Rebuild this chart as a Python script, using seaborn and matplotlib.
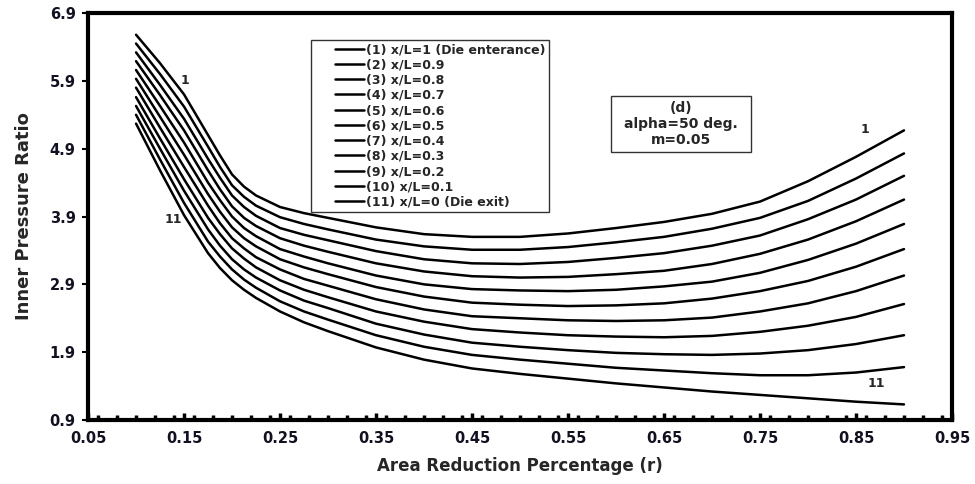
import numpy as np
import pandas as pd
import matplotlib
matplotlib.use("Agg")
import matplotlib.pyplot as plt
import seaborn as sns
from matplotlib.ticker import MultipleLocator, FixedLocator
from matplotlib.lines import Line2D
from matplotlib.patches import Rectangle
from matplotlib.legend_handler import HandlerLine2D

# ---------------- data ----------------
r_values = [0.10, 0.125, 0.15, 0.175, 0.1875, 0.20, 0.2125, 0.225, 0.25, 0.275, 0.30,
            0.35, 0.40, 0.45, 0.50, 0.55, 0.60, 0.65, 0.70, 0.75, 0.80, 0.85, 0.90]

curve_1 = [6.58, 6.16, 5.70, 5.10, 4.80, 4.52, 4.34, 4.21, 4.04, 3.95, 3.88,
           3.74, 3.64, 3.60, 3.60, 3.65, 3.73, 3.82, 3.94, 4.12, 4.42, 4.78, 5.17]
curve_2 = [6.45, 6.00, 5.52, 4.93, 4.63, 4.36, 4.19, 4.06, 3.89, 3.79, 3.71,
           3.56, 3.46, 3.41, 3.41, 3.45, 3.52, 3.60, 3.72, 3.88, 4.13, 4.46, 4.83]
curve_3 = [6.32, 5.84, 5.34, 4.75, 4.47, 4.21, 4.04, 3.91, 3.73, 3.63, 3.55,
           3.39, 3.27, 3.21, 3.20, 3.23, 3.29, 3.36, 3.47, 3.62, 3.86, 4.15, 4.50]
curve_4 = [6.19, 5.69, 5.17, 4.58, 4.30, 4.05, 3.88, 3.76, 3.58, 3.47, 3.38,
           3.21, 3.09, 3.02, 3.00, 3.01, 3.05, 3.10, 3.20, 3.35, 3.56, 3.83, 4.15]
curve_5 = [6.06, 5.53, 4.99, 4.40, 4.14, 3.90, 3.73, 3.61, 3.42, 3.31, 3.21,
           3.03, 2.90, 2.83, 2.81, 2.80, 2.82, 2.87, 2.94, 3.07, 3.26, 3.50, 3.79]
curve_6 = [5.93, 5.37, 4.81, 4.23, 3.97, 3.74, 3.58, 3.46, 3.27, 3.15, 3.05,
           2.86, 2.72, 2.63, 2.60, 2.58, 2.59, 2.62, 2.69, 2.80, 2.95, 3.16, 3.42]
curve_7 = [5.80, 5.21, 4.63, 4.06, 3.80, 3.58, 3.43, 3.30, 3.12, 2.98, 2.88,
           2.68, 2.53, 2.43, 2.40, 2.37, 2.36, 2.37, 2.41, 2.50, 2.62, 2.80, 3.03]
curve_8 = [5.66, 5.05, 4.45, 3.88, 3.64, 3.43, 3.28, 3.15, 2.96, 2.82, 2.71,
           2.50, 2.35, 2.24, 2.19, 2.15, 2.13, 2.12, 2.14, 2.20, 2.29, 2.42, 2.61]
curve_9 = [5.53, 4.90, 4.28, 3.71, 3.47, 3.27, 3.12, 3.00, 2.81, 2.66, 2.55,
           2.32, 2.16, 2.04, 1.98, 1.93, 1.89, 1.87, 1.86, 1.88, 1.93, 2.02, 2.15]
curve_10 = [5.40, 4.74, 4.10, 3.53, 3.31, 3.12, 2.97, 2.85, 2.65, 2.50, 2.38,
            2.15, 1.98, 1.86, 1.79, 1.73, 1.67, 1.63, 1.59, 1.56, 1.56, 1.60, 1.68]
curve_11 = [5.27, 4.58, 3.92, 3.36, 3.14, 2.96, 2.82, 2.70, 2.50, 2.34, 2.21,
            1.97, 1.79, 1.66, 1.58, 1.51, 1.44, 1.38, 1.32, 1.27, 1.22, 1.17, 1.13]

series_labels = [
    "(1) x/L=1 (Die enterance)", "(2) x/L=0.9", "(3) x/L=0.8", "(4) x/L=0.7",
    "(5) x/L=0.6", "(6) x/L=0.5", "(7) x/L=0.4", "(8) x/L=0.3",
    "(9) x/L=0.2", "(10) x/L=0.1", "(11) x/L=0 (Die exit)",
]
x_ticks = [0.05, 0.15, 0.25, 0.35, 0.45, 0.55, 0.65, 0.75, 0.85, 0.95]
y_ticks = [0.9, 1.9, 2.9, 3.9, 4.9, 5.9, 6.9]

all_curves = [curve_1, curve_2, curve_3, curve_4, curve_5, curve_6,
              curve_7, curve_8, curve_9, curve_10, curve_11]

frames = []
for lab, vals in zip(series_labels, all_curves):
    frames.append(pd.DataFrame({"r": r_values, "ratio": vals, "curve": lab}))
df = pd.concat(frames, ignore_index=True)

# ---------------- plot ----------------
sns.set_theme(style="white")
plt.rcParams["font.family"] = ["DejaVu Sans"]
plt.rcParams["font.weight"] = "bold"

fig = plt.figure(figsize=(9.75, 4.84), dpi=100)
ax = fig.add_axes([0.0903, 0.1322, 0.8861, 0.8409])

sns.lineplot(data=df, x="r", y="ratio", hue="curve", hue_order=series_labels,
             palette=["black"] * len(series_labels), estimator=None, sort=False,
             linewidth=1.8, ax=ax, legend=True)

ax.set_xlim(0.05, 0.95)
ax.set_ylim(0.9, 6.9)
ax.xaxis.set_major_locator(FixedLocator(x_ticks))
ax.xaxis.set_minor_locator(MultipleLocator(0.02))
ax.yaxis.set_major_locator(FixedLocator(y_ticks))
ax.set_xticklabels([f"{v:.2f}" for v in x_ticks])
ax.set_yticklabels([f"{v:.1f}" for v in y_ticks])

for lab in ax.get_xticklabels() + ax.get_yticklabels():
    lab.set_fontweight("bold")
    lab.set_fontsize(10.5)
    lab.set_color("#111122")

ax.tick_params(axis="x", which="major", direction="in", length=5, width=2.5,
               color="black", pad=8, bottom=True)
ax.tick_params(axis="x", which="minor", direction="in", length=3.5, width=2.5,
               color="black", bottom=True)
ax.tick_params(axis="y", which="major", direction="out", length=4, width=1.5,
               color="black", pad=5, left=True)

for sp in ax.spines.values():
    sp.set_visible(True)
    sp.set_color("black")
    sp.set_linewidth(3)

ax.set_xlabel("Area Reduction Percentage (r)", fontsize=12, fontweight="bold",
              labelpad=8)
ax.set_ylabel("Inner Pressure Ratio", fontsize=13, fontweight="bold", labelpad=12)


class ShiftedLine(HandlerLine2D):
    """Legend line drawn only on the right part of the handle area."""
    def create_artists(self, legend, orig_handle, xdescent, ydescent, width,
                       height, fontsize, trans):
        arts = super().create_artists(legend, orig_handle, xdescent, ydescent,
                                      width, height, fontsize, trans)
        for a in arts:
            xd = np.asarray(a.get_xdata(), dtype=float)
            if len(xd) >= 2:
                start = xd[0] + 0.42 * (xd[-1] - xd[0])
                a.set_xdata(np.linspace(start, xd[-1], len(xd)))
        return arts


handles, labels = ax.get_legend_handles_labels()
for h in handles:
    h.set_color("black")
    h.set_linewidth(1.8)
leg = ax.legend(handles, labels, loc="upper left", bbox_to_anchor=(0.258, 0.934),
                borderaxespad=0, frameon=True, fancybox=False, shadow=False,
                framealpha=1, edgecolor="#333333",
                prop={"weight": "bold", "size": 9},
                handlelength=4.0, handletextpad=0.15, labelspacing=0.18,
                borderpad=0.25, handler_map={Line2D: ShiftedLine()})
leg.get_frame().set_linewidth(1.0)

# parameter box
ax.add_patch(Rectangle((0.605, 0.659), 0.162, 0.137, transform=ax.transAxes,
                       facecolor="white", edgecolor="#333333", linewidth=1.0,
                       zorder=5))
ax.text(0.686, 0.7275, "(d)\nalpha=50 deg.\nm=0.05", transform=ax.transAxes,
        ha="center", va="center", fontsize=10, fontweight="bold",
        linespacing=1.15, zorder=6)

ax.text(0.151, 5.91, "1", ha="center", va="center", fontsize=9, fontweight="bold")
ax.text(0.1385, 3.85, "11", ha="center", va="center", fontsize=9, fontweight="bold")
ax.text(0.859, 5.19, "1", ha="center", va="center", fontsize=9, fontweight="bold")
ax.text(0.8715, 1.44, "11", ha="center", va="center", fontsize=9, fontweight="bold")

fig.savefig("out.png", dpi=100, facecolor="white")
